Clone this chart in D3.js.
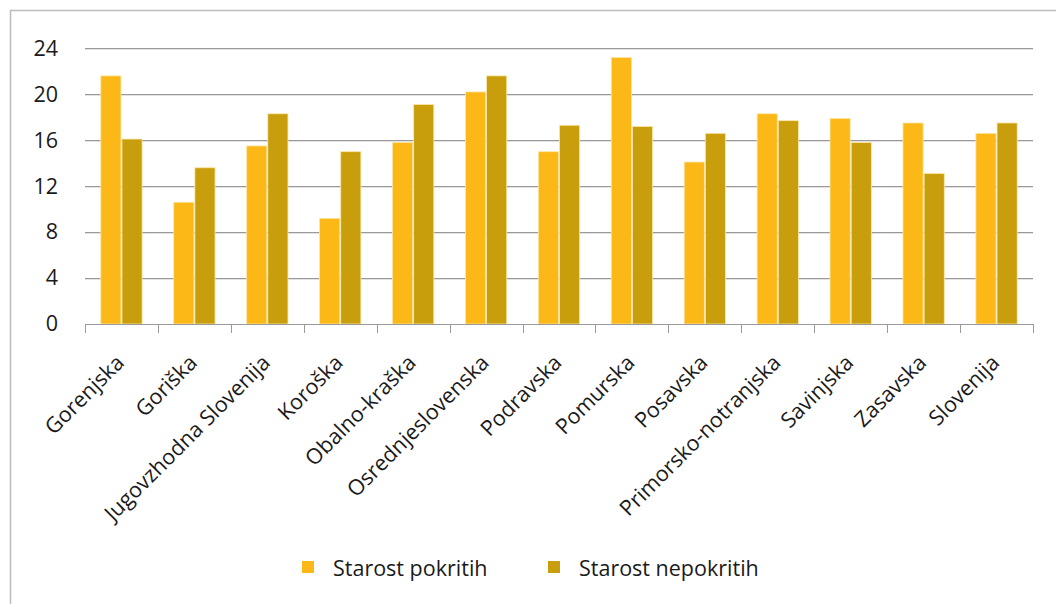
<!DOCTYPE html>
<html><head><meta charset="utf-8">
<script src="https://cdn.jsdelivr.net/npm/d3@7"></script>
<style>body{margin:0;background:#fff}svg{display:block}</style>
</head><body>
<script>
const categories = ["Gorenjska","Goriška","Jugovzhodna Slovenija","Koroška","Obalno-kraška","Osrednjeslovenska","Podravska","Pomurska","Posavska","Primorsko-notranjska","Savinjska","Zasavska","Slovenija"];
const seriesNames = ["Starost pokritih","Starost nepokritih"];
const pokritih = [21.6,10.6,15.5,9.2,15.8,20.2,15.0,23.2,14.1,18.3,17.9,17.5,16.6];
const nepokritih = [16.1,13.6,18.3,15.0,19.1,21.6,17.3,17.2,16.6,17.7,15.8,13.1,17.5];
const yTicks = [0,4,8,12,16,20,24];
const colors = ["#FBB817","#C89E0C"];

const W=1056,H=604;
const FONT = "'Open Sans', sans-serif";
const FS = 21.5;
const svg=d3.select("body").append("svg").attr("width",W).attr("height",H);
svg.append("rect").attr("x",10.5).attr("y",10.5).attr("width",1200).attr("height",800)
  .attr("fill","#fff").attr("stroke","#bdbdbd").attr("stroke-width",1.5);

const pLeft=85,pRight=1033,pTop=48.3,pBottom=324;
const y=d3.scaleLinear().domain([0,24]).range([pBottom,pTop]);
const x=d3.scaleBand().domain(categories).range([pLeft,pRight]).paddingInner(0.42).paddingOuter(0.21);
const xs=d3.scaleBand().domain(seriesNames).range([0,x.bandwidth()]);
const step=x.step();

// gridlines
const g=svg.append("g");
yTicks.forEach(t=>{
  if(t===0) return;
  g.append("line").attr("x1",pLeft).attr("x2",pRight).attr("y1",Math.round(y(t))+0.5).attr("y2",Math.round(y(t))+0.5)
    .attr("stroke","#9a9a9a").attr("stroke-width",1);
  g.append("line").attr("x1",pLeft).attr("x2",pRight).attr("y1",Math.round(y(t))+1.5).attr("y2",Math.round(y(t))+1.5)
    .attr("stroke","#e2e2e2").attr("stroke-width",1);
});
// y labels
const yAxis=d3.axisLeft(y).tickValues(yTicks).tickSize(0).tickPadding(0);
const ya=svg.append("g").attr("transform",`translate(${pLeft-27},0)`).call(yAxis);
ya.select(".domain").remove();
ya.selectAll("text").attr("font-family",FONT).attr("font-size",FS).attr("fill","#1a1a1a");

// bars
const data=categories.map((c,i)=>({c,vals:[pokritih[i],nepokritih[i]]}));
const grp=svg.append("g").selectAll("g").data(data).join("g").attr("transform",d=>`translate(${x(d.c)},0)`);
grp.selectAll("rect").data(d=>d.vals.map((v,k)=>({k,v}))).join("rect")
  .attr("x",d=>xs(seriesNames[d.k])+0.5).attr("width",xs.bandwidth()-1)
  .attr("y",d=>y(d.v)).attr("height",d=>y(0)-y(d.v))
  .attr("fill",d=>colors[d.k]).attr("stroke","#fbe7a8").attr("stroke-width",0.8);

// x axis
const ax=svg.append("g");
ax.append("line").attr("x1",pLeft).attr("x2",pRight).attr("y1",pBottom+0.5).attr("y2",pBottom+0.5).attr("stroke","#9a9a9a");
d3.range(categories.length+1).forEach(i=>{
  const xx=Math.round(pLeft+i*step)+0.5;
  ax.append("line").attr("x1",xx).attr("x2",xx).attr("y1",pBottom).attr("y2",pBottom+9).attr("stroke","#9a9a9a");
});
ax.selectAll("text.cat").data(categories).join("text").attr("class","cat")
  .attr("transform",d=>`translate(${x(d)+x.bandwidth()/2},${pBottom+36}) rotate(-45)`)
  .attr("text-anchor","end").attr("dominant-baseline","middle")
  .attr("font-family",FONT).attr("font-size",FS).attr("fill","#1a1a1a").text(d=>d);

// legend
const leg=svg.append("g");
const lx=[302,548];
seriesNames.forEach((s,k)=>{
  leg.append("rect").attr("x",lx[k]).attr("y",561).attr("width",12).attr("height",12).attr("fill",colors[k]);
  leg.append("text").attr("x",lx[k]+31).attr("y",575.5).attr("font-family",FONT).attr("font-size",FS).attr("fill","#1a1a1a").text(s);
});
</script>
</body></html>
